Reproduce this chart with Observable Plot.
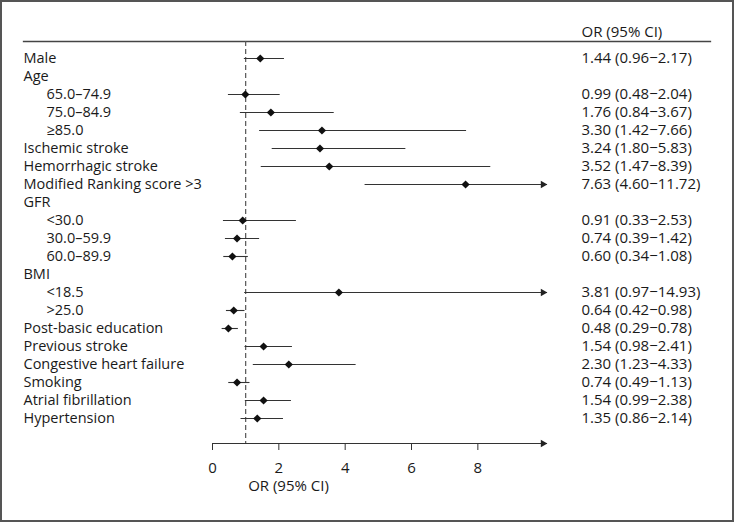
<!DOCTYPE html>
<html>
<head>
<meta charset="utf-8">
<script src="https://cdn.jsdelivr.net/npm/d3@7"></script>
<script src="https://cdn.jsdelivr.net/npm/@observablehq/plot@0.6"></script>
<style>
  html, body { margin: 0; padding: 0; background: #fff; }
  #chart svg { display: block; outline: 2px solid #555; outline-offset: -2px; }
</style>
</head>
<body>
<div id="chart"></div>
<script>
// Row labels (top to bottom)
const labels = ["Male", "Age", "65.0–74.9", "75.0–84.9", "≥85.0", "Ischemic stroke", "Hemorrhagic stroke",
  "Modified Ranking score >3", "GFR", "<30.0", "30.0–59.9", "60.0–89.9", "BMI", "<18.5", ">25.0",
  "Post-basic education", "Previous stroke", "Congestive heart failure", "Smoking", "Atrial fibrillation", "Hypertension"];
// 1 = indented sub-category
const indent = [0, 0, 1, 1, 1, 0, 0, 0, 0, 1, 1, 1, 0, 1, 1, 0, 0, 0, 0, 0, 0];
// Odds ratios and 95% CI (null = group header)
const orValues = [1.44, null, 0.99, 1.76, 3.30, 3.24, 3.52, 7.63, null, 0.91, 0.74, 0.60, null, 3.81, 0.64, 0.48, 1.54, 2.30, 0.74, 1.54, 1.35];
const ciLow =    [0.96, null, 0.48, 0.84, 1.42, 1.80, 1.47, 4.60, null, 0.33, 0.39, 0.34, null, 0.97, 0.42, 0.29, 0.98, 1.23, 0.49, 0.99, 0.86];
const ciHigh =   [2.17, null, 2.04, 3.67, 7.66, 5.83, 8.39, 11.72, null, 2.53, 1.42, 1.08, null, 14.93, 0.98, 0.78, 2.41, 4.33, 1.13, 2.38, 2.14];
// Axis
const xTicks = [0, 2, 4, 6, 8];
const xMax = 10.1;
const refLine = 1;
const colTitle = "OR (95% CI)";
const axisTitle = "OR (95% CI)";

const fmt = v => v.toFixed(2);
const rows = labels.map((label, i) => ({
  label, indent: indent[i], or: orValues[i], lo: ciLow[i], hi: ciHigh[i],
  ci: orValues[i] == null ? "" : `${fmt(orValues[i])} (${fmt(ciLow[i])}−${fmt(ciHigh[i])})`
}));
const est = rows.filter(d => d.or != null);
const clipped = est.filter(d => d.hi > xMax);
const last = labels[labels.length - 1];

const ink = "#1a1a1a";
const fsL = 14.5;
const fsR = 15;
const chart = Plot.plot({
  width: 734,
  height: 522,
  marginLeft: 23,
  marginRight: 24,
  marginTop: 41,
  marginBottom: 79,
  style: { fontFamily: "'Open Sans', sans-serif", fontSize: "14px", color: ink, background: "#fff" },
  x: { domain: [0, xMax], range: [212, 547] },
  y: { type: "point", domain: labels, range: [58, 418], padding: 0, axis: null },
  marks: [
    Plot.frame({ anchor: "top", stroke: "#444", strokeWidth: 1.3 }),
    Plot.ruleX([refLine], { stroke: "#555", strokeDasharray: "5,3", strokeWidth: 1.2 }),
    // CI lines
    Plot.ruleY(est, { y: "label", x1: "lo", x2: d => Math.min(d.hi, xMax), stroke: "#333", strokeWidth: 1.1 }),
    Plot.dot(clipped, { x: () => xMax, y: "label", symbol: "triangle", rotate: 90, r: 2.8, fill: "#222", stroke: null, dx: -4.5 }),
    Plot.dot(est, { x: "or", y: "label", symbol: "diamond2", r: 3.7, fill: "#111", stroke: null }),
    // row labels
    Plot.text(rows.filter(d => !d.indent), { y: "label", text: "label", frameAnchor: "left", textAnchor: "start", fill: ink, fontSize: fsL }),
    Plot.text(rows.filter(d => d.indent), { y: "label", text: "label", frameAnchor: "left", textAnchor: "start", dx: 23, fill: ink, fontSize: fsL }),
    // estimates column
    Plot.text(est, { y: "label", text: "ci", frameAnchor: "right", textAnchor: "start", dx: -129, fill: ink, fontSize: fsR }),
    Plot.text([colTitle], { text: d => d, frameAnchor: "top-right", textAnchor: "start", dx: -129, dy: -15, fill: ink, fontSize: fsR }),
    // x axis
    Plot.ruleY([last], { x1: 0, x2: xMax, dy: 25, stroke: "#333", strokeWidth: 1.2 }),
    Plot.dot([last], { x: () => xMax, y: d => d, symbol: "triangle", rotate: 90, r: 2.8, fill: "#222", stroke: null, dx: -4.5, dy: 25 }),
    Plot.axisX({ ticks: xTicks, tickSize: 7, tickPadding: 12, label: null, stroke: "#333", fill: ink, fontSize: fsR }),
    Plot.text([axisTitle], { text: d => d, frameAnchor: "bottom-left", textAnchor: "middle", dx: 265, dy: 47, fill: ink, fontSize: fsR })
  ]
});
document.getElementById("chart").append(chart);
</script>
</body>
</html>
